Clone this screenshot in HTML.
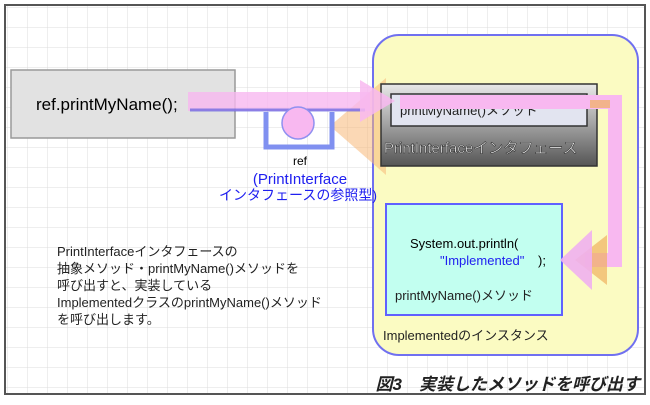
<!DOCTYPE html>
<html><head><meta charset="utf-8"><style>
body{margin:0;width:650px;height:400px;overflow:hidden;background:#fff}
svg text{font-family:"Liberation Sans","Noto Sans CJK JP",sans-serif}
</style></head><body>
<svg width="650" height="400" xmlns="http://www.w3.org/2000/svg">
<defs>
<pattern id="g" width="20" height="20" patternUnits="userSpaceOnUse" x="8" y="8">
<path d="M20 0V20H0" fill="none" stroke="#dcdcdc" stroke-width="1"/></pattern>
<linearGradient id="dk" x1="0" y1="0" x2="0" y2="1"><stop offset="0" stop-color="#e8e8e8"/><stop offset="0.4" stop-color="#b0b0b0"/><stop offset="1" stop-color="#555"/></linearGradient>
</defs>
<rect x="0" y="0" width="650" height="400" fill="#fff"/>
<rect x="5" y="5" width="640" height="389" fill="url(#g)" stroke="#555" stroke-width="2"/>
<rect x="11" y="70" width="224" height="68" fill="#e2e2e2" stroke="#999" stroke-width="1.5"/>
<text x="36" y="110" font-size="17" fill="#000">ref.printMyName();</text>
<rect x="373" y="35" width="265" height="320" rx="26" fill="#fbfbc2" stroke="#7070f0" stroke-width="2"/>
<polygon points="330,126 386,78 386,175" fill="#f8b878" opacity="0.55"/>
<rect x="381" y="84" width="216" height="82" fill="url(#dk)" stroke="#333" stroke-width="1.5"/>
<rect x="391" y="94" width="196" height="32" fill="#e2e4f0" stroke="#333" stroke-width="1.5"/>
<text x="400" y="115" font-size="13" fill="#222" font-family="Liberation Mono,'Noto Sans CJK JP',monospace">printMyName()メソッド</text>
<text x="384" y="153" font-size="15" fill="#fff" stroke="#333" stroke-width="0.6">PrintInterfaceインタフェース</text>
<rect x="386" y="204" width="176" height="111" fill="#c2fff0" stroke="#6060ff" stroke-width="2"/>
<text x="410" y="248" font-size="13" fill="#000">System.out.println(</text>
<text x="440" y="265" font-size="13" fill="#2020f0">"Implemented"</text>
<text x="538" y="265" font-size="13" fill="#000">);</text>
<text x="395" y="300" font-size="13" fill="#222">printMyName()メソッド</text>
<text x="383" y="340" font-size="13" fill="#222">Implementedのインスタンス</text>
<rect x="188" y="92" width="182" height="19" fill="#f8b8f0" opacity="0.8"/>
<line x1="190" y1="110" x2="365" y2="110" stroke="#6060e0" stroke-width="3" opacity="0.7"/>
<polygon points="360,80 395,101 360,122" fill="#f8b8f0" opacity="0.85"/>
<path d="M400 102H615V260H585" fill="none" stroke="#f8b8f0" stroke-width="14"/>
<rect x="590" y="100" width="20" height="8" fill="#f0b060" opacity="0.7"/>
<polygon points="607,235 575,260 607,285" fill="#f0b060" opacity="0.7"/>
<polygon points="592,230 560,260 592,290" fill="#f0b0f0" opacity="0.9"/>
<path d="M266 112V147H332V112" fill="none" stroke="#8090f0" stroke-width="5"/>
<circle cx="298" cy="123" r="16" fill="#f8b8f0" stroke="#9090f0" stroke-width="1.5"/>
<text x="300" y="165" font-size="12" fill="#000" text-anchor="middle">ref</text>
<text x="300" y="184" font-size="15" fill="#2020f0" text-anchor="middle">(PrintInterface</text>
<text x="298" y="200" font-size="14" fill="#2020f0" text-anchor="middle">インタフェースの参照型)</text>
<g font-size="13" fill="#222">
<text x="57" y="256">PrintInterfaceインタフェースの</text>
<text x="57" y="273">抽象メソッド・printMyName()メソッドを</text>
<text x="57" y="290">呼び出すと、実装している</text>
<text x="57" y="307">ImplementedクラスのprintMyName()メソッド</text>
<text x="57" y="324">を呼び出します。</text>
</g>
<text x="640" y="390" font-size="17" font-weight="bold" font-style="italic" fill="#222" text-anchor="end">図3　実装したメソッドを呼び出す</text>
</svg>
</body></html>
